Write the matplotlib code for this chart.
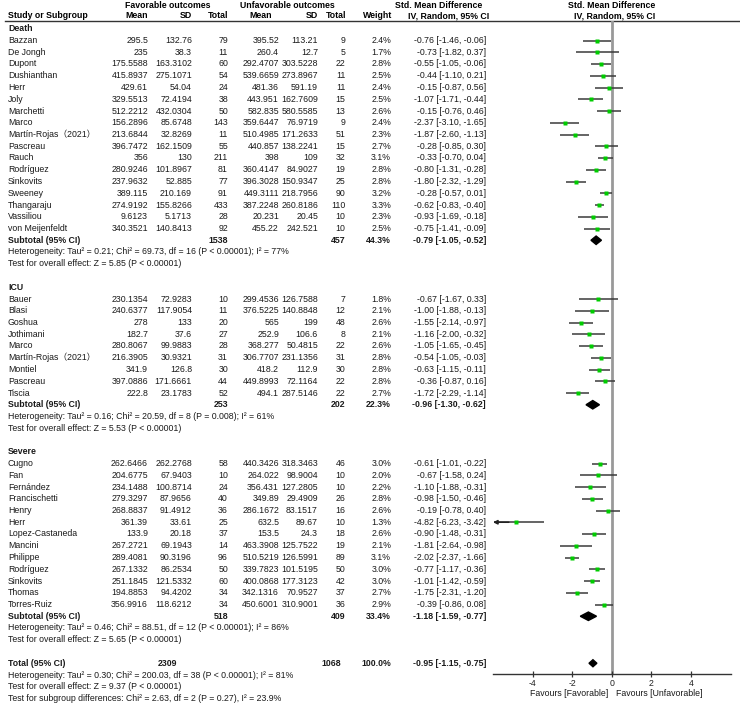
import matplotlib
matplotlib.use("Agg")
import matplotlib.pyplot as plt
from matplotlib.patches import Polygon

plt.rcParams["font.family"] = ["Liberation Sans", "Noto Sans CJK SC", "DejaVu Sans"]
plt.rcParams["axes.unicode_minus"] = False

# ---- data ----
groups = ["Death", "ICU", "Severe"]
group_sizes = [17, 9, 13]

studies = [
    "Bazzan", "De Jongh", "Dupont", "Dushianthan", "Herr", "Joly", "Marchetti", "Marco",
    "Martín-Rojas（2021）", "Pascreau", "Rauch", "Rodríguez", "Sinkovits", "Sweeney",
    "Thangaraju", "Vassiliou", "von Meijenfeldt",
    "Bauer", "Blasi", "Goshua", "Jothimani", "Marco", "Martín-Rojas（2021）", "Montiel",
    "Pascreau", "Tiscia",
    "Cugno", "Fan", "Fernández", "Francischetti", "Henry", "Herr", "Lopez-Castaneda",
    "Mancini", "Philippe", "Rodríguez", "Sinkovits", "Thomas", "Torres-Ruiz",
]
fav_mean = [
    "295.5", "235", "175.5588", "415.8937", "429.61", "329.5513", "512.2212", "156.2896",
    "213.6844", "396.7472", "356", "280.9246", "237.9632", "389.115", "274.9192", "9.6123",
    "340.3521",
    "230.1354", "240.6377", "278", "182.7", "280.8067", "216.3905", "341.9", "397.0886",
    "222.8",
    "262.6466", "204.6775", "234.1488", "279.3297", "268.8837", "361.39", "133.9",
    "267.2721", "289.4081", "267.1332", "251.1845", "194.8853", "356.9916",
]
fav_sd = [
    "132.76", "38.3", "163.3102", "275.1071", "54.04", "72.4194", "432.0304", "85.6748",
    "32.8269", "162.1509", "130", "101.8967", "52.885", "210.169", "155.8266", "5.1713",
    "140.8413",
    "72.9283", "117.9054", "133", "37.6", "99.9883", "30.9321", "126.8", "171.6661",
    "23.1783",
    "262.2768", "67.9403", "100.8714", "87.9656", "91.4912", "33.61", "20.18",
    "69.1943", "90.3196", "86.2534", "121.5332", "94.4202", "118.6212",
]
fav_n = [79, 11, 60, 54, 24, 38, 50, 143, 11, 55, 211, 81, 77, 91, 433, 28, 92,
         10, 11, 20, 27, 28, 31, 30, 44, 52,
         58, 10, 24, 40, 36, 25, 37, 14, 96, 50, 60, 34, 34]
unf_mean = [
    "395.52", "260.4", "292.4707", "539.6659", "481.36", "443.951", "582.835", "359.6447",
    "510.4985", "440.857", "398", "360.4147", "396.3028", "449.3111", "387.2248", "20.231",
    "455.22",
    "299.4536", "376.5225", "565", "252.9", "368.277", "306.7707", "418.2", "449.8993",
    "494.1",
    "440.3426", "264.022", "356.431", "349.89", "286.1672", "632.5", "153.5",
    "463.3908", "510.5219", "339.7823", "400.0868", "342.1316", "450.6001",
]
unf_sd = [
    "113.21", "12.7", "303.5228", "273.8967", "591.19", "162.7609", "580.5585", "76.9719",
    "171.2633", "138.2241", "109", "84.9027", "150.9347", "218.7956", "260.8186", "20.45",
    "242.521",
    "126.7588", "140.8848", "199", "106.6", "50.4815", "231.1356", "112.9", "72.1164",
    "287.5146",
    "318.3463", "98.9004", "127.2805", "29.4909", "83.1517", "89.67", "24.3",
    "125.7522", "126.5991", "101.5195", "177.3123", "70.9527", "310.9001",
]
unf_n = [9, 5, 22, 11, 11, 15, 13, 9, 51, 15, 32, 19, 25, 90, 110, 10, 10,
         7, 12, 48, 8, 22, 31, 30, 22, 22,
         46, 10, 10, 26, 16, 10, 18, 19, 89, 50, 42, 37, 36]
weight = [2.4, 1.7, 2.8, 2.5, 2.4, 2.5, 2.6, 2.4, 2.3, 2.7, 3.1, 2.8, 2.8, 3.2, 3.3, 2.3, 2.5,
          1.8, 2.1, 2.6, 2.1, 2.6, 2.8, 2.8, 2.8, 2.7,
          3.0, 2.0, 2.2, 2.8, 2.6, 1.3, 2.6, 2.1, 3.1, 3.0, 3.0, 2.7, 2.9]
smd = [-0.76, -0.73, -0.55, -0.44, -0.15, -1.07, -0.15, -2.37, -1.87, -0.28, -0.33, -0.80,
       -1.80, -0.28, -0.62, -0.93, -0.75,
       -0.67, -1.00, -1.55, -1.16, -1.05, -0.54, -0.63, -0.36, -1.72,
       -0.61, -0.67, -1.10, -0.98, -0.19, -4.82, -0.90, -1.81, -2.02, -0.77, -1.01, -1.75,
       -0.39]
ci_lo = [-1.46, -1.82, -1.05, -1.10, -0.87, -1.71, -0.76, -3.10, -2.60, -0.85, -0.70, -1.31,
         -2.32, -0.57, -0.83, -1.69, -1.41,
         -1.67, -1.88, -2.14, -2.00, -1.65, -1.05, -1.15, -0.87, -2.29,
         -1.01, -1.58, -1.88, -1.50, -0.78, -6.23, -1.48, -2.64, -2.37, -1.17, -1.42, -2.31,
         -0.86]
ci_hi = [-0.06, 0.37, -0.06, 0.21, 0.56, -0.44, 0.46, -1.65, -1.13, 0.30, 0.04, -0.28,
         -1.29, 0.01, -0.40, -0.18, -0.09,
         0.33, -0.13, -0.97, -0.32, -0.45, -0.03, -0.11, 0.16, -1.14,
         -0.22, 0.24, -0.31, -0.46, 0.40, -3.42, -0.31, -0.98, -1.66, -0.36, -0.59, -1.20,
         0.08]

sub_fav_n = [1538, 253, 518]
sub_unf_n = [457, 202, 409]
sub_weight = [44.3, 22.3, 33.4]
sub_smd = [-0.79, -0.96, -1.18]
sub_lo = [-1.05, -1.30, -1.59]
sub_hi = [-0.52, -0.62, -0.77]
sub_het = [
    "Heterogeneity: Tau² = 0.21; Chi² = 69.73, df = 16 (P < 0.00001); I² = 77%",
    "Heterogeneity: Tau² = 0.16; Chi² = 20.59, df = 8 (P = 0.008); I² = 61%",
    "Heterogeneity: Tau² = 0.46; Chi² = 88.51, df = 12 (P < 0.00001); I² = 86%",
]
sub_test = [
    "Test for overall effect: Z = 5.85 (P < 0.00001)",
    "Test for overall effect: Z = 5.53 (P < 0.00001)",
    "Test for overall effect: Z = 5.65 (P < 0.00001)",
]

total_fav_n = 2309
total_unf_n = 1068
total_smd, total_lo, total_hi = -0.95, -1.15, -0.75
total_notes = [
    "Heterogeneity: Tau² = 0.30; Chi² = 200.03, df = 38 (P < 0.00001); I² = 81%",
    "Test for overall effect: Z = 9.37 (P < 0.00001)",
    "Test for subgroup differences: Chi² = 2.63, df = 2 (P = 0.27), I² = 23.9%",
]
xticks = [-4, -2, 0, 2, 4]

# ---- layout ----
W, H = 740, 705
Y0, STEP = 40.5, 11.75
FS = 6.3
TOP_RULE, AXIS_Y = 20.7, 673.7
X_LEFT, X_RIGHT = 493.0, 730.5


def ypix(r):
    return Y0 + r * STEP


fig = plt.figure(figsize=(W / 100, H / 100), dpi=100)
ax = fig.add_axes([0, 0, 1, 1])
ax.set_xlim(0, W)
ax.set_ylim(H, 0)
ax.axis("off")

r_top = (TOP_RULE - Y0) / STEP
r_bot = (AXIS_Y - Y0) / STEP
fx = fig.add_axes([X_LEFT / W, 1 - AXIS_Y / H, (X_RIGHT - X_LEFT) / W, (AXIS_Y - TOP_RULE) / H])
fx.set_xlim(-6, 6)
fx.set_ylim(r_bot, r_top)
fx.patch.set_alpha(0)
for s in ["top", "left", "right"]:
    fx.spines[s].set_visible(False)
fx.spines["bottom"].set_color("#333333")
fx.spines["bottom"].set_linewidth(1.0)
fx.set_yticks([])
fx.set_xticks(xticks)
fx.tick_params(axis="x", direction="inout", length=5, width=0.9, colors="#333333",
               labelsize=FS, pad=1, labelcolor="#222222")
fx.axvline(0, color="#999999", lw=2, zorder=1)


def txt(x, r, s, ha="left", bold=False, y=None):
    ax.text(x, ypix(r) if y is None else y, s, ha=ha, va="center", fontsize=FS,
            fontweight="bold" if bold else "normal", color="#1a1a1a")


# headers
ax.text(168, 5.5, "Favorable outcomes", ha="center", va="center", fontsize=FS, fontweight="bold")
ax.text(287, 5.5, "Unfavorable outcomes", ha="center", va="center", fontsize=FS, fontweight="bold")
ax.text(439, 5.5, "Std. Mean Difference", ha="center", va="center", fontsize=FS, fontweight="bold")
ax.text(612, 5.5, "Std. Mean Difference", ha="center", va="center", fontsize=FS, fontweight="bold")
hdr = [(8, "Study or Subgroup", "left"), (148, "Mean", "right"), (192, "SD", "right"),
       (228, "Total", "right"), (272, "Mean", "right"), (318, "SD", "right"),
       (346, "Total", "right"), (392, "Weight", "right"), (489, "IV, Random, 95% CI", "right"),
       (655.5, "IV, Random, 95% CI", "right")]
for x, s, ha in hdr:
    ax.text(x, 16, s, ha=ha, va="center", fontsize=FS, fontweight="bold")
ax.plot([5, W], [TOP_RULE, TOP_RULE], color="#333333", lw=1)

# body
r = -1
i = 0
for g, name in enumerate(groups):
    txt(8, r, name, bold=True)
    r += 1
    for _ in range(group_sizes[g]):
        txt(8, r, studies[i])
        txt(148, r, fav_mean[i], "right")
        txt(192, r, fav_sd[i], "right")
        txt(228, r, str(fav_n[i]), "right")
        txt(279, r, unf_mean[i], "right")
        txt(318, r, unf_sd[i], "right")
        txt(345.5, r, str(unf_n[i]), "right")
        txt(391, r, f"{weight[i]:.1f}%", "right")
        txt(486, r, f"{smd[i]:.2f} [{ci_lo[i]:.2f}, {ci_hi[i]:.2f}]", "right")
        if ci_lo[i] < -6:
            fx.hlines(r, -5.95, ci_hi[i], color="#3a3a3a", lw=1.1)
            fx.annotate("", xy=(-6, r), xytext=(-5.2, r), annotation_clip=False,
                        arrowprops=dict(arrowstyle="-|>", color="#222222", lw=1.1,
                                        mutation_scale=6, shrinkA=0, shrinkB=0))
        else:
            fx.hlines(r, ci_lo[i], ci_hi[i], color="#3a3a3a", lw=1.1)
        fx.plot(smd[i], r, "s", ms=2.2, color="#00cc00", mec="none", zorder=3)
        i += 1
        r += 1
    txt(8, r, "Subtotal (95% CI)", bold=True)
    txt(228, r, str(sub_fav_n[g]), "right", bold=True)
    txt(345.5, r, str(sub_unf_n[g]), "right", bold=True)
    txt(391, r, f"{sub_weight[g]:.1f}%", "right", bold=True)
    txt(486, r, f"{sub_smd[g]:.2f} [{sub_lo[g]:.2f}, {sub_hi[g]:.2f}]", "right", bold=True)
    fx.add_patch(Polygon([(sub_lo[g], r), (sub_smd[g], r - 0.36), (sub_hi[g], r),
                          (sub_smd[g], r + 0.36)], closed=True, color="black", zorder=3))
    txt(8, r + 1, sub_het[g])
    txt(8, r + 2, sub_test[g])
    r += 4

txt(8, r, "Total (95% CI)", bold=True)
txt(177, r, str(total_fav_n), "right", bold=True)
txt(341, r, str(total_unf_n), "right", bold=True)
txt(391, r, "100.0%", "right", bold=True)
txt(486, r, f"{total_smd:.2f} [{total_lo:.2f}, {total_hi:.2f}]", "right", bold=True)
fx.add_patch(Polygon([(total_lo, r), (total_smd, r - 0.3), (total_hi, r),
                      (total_smd, r + 0.3)], closed=True, color="black", zorder=3))
for k, s in enumerate(total_notes):
    txt(8, r + 1 + k, s)

ax.text(608, 694, "Favours [Favorable]", ha="right", va="center", fontsize=FS, color="#1a1a1a")
ax.text(616, 694, "Favours [Unfavorable]", ha="left", va="center", fontsize=FS, color="#1a1a1a")

fig.savefig("out.png", dpi=100)
